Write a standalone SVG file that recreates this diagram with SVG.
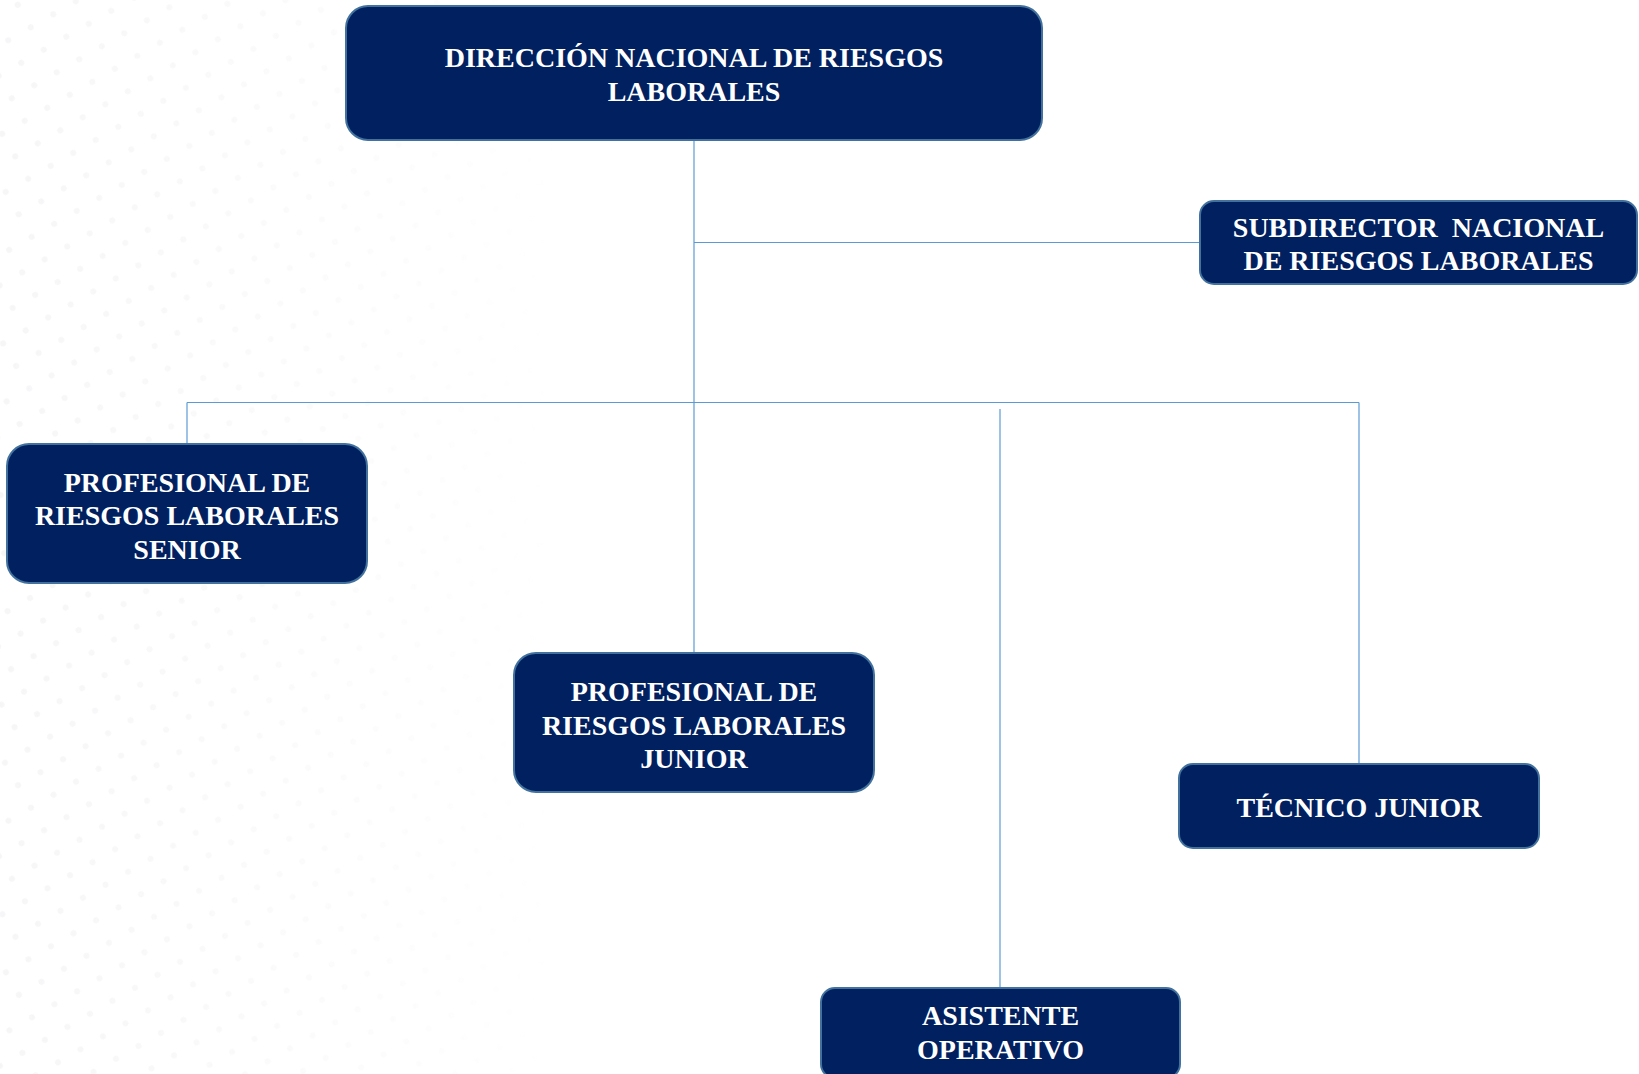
<svg xmlns="http://www.w3.org/2000/svg" width="1639" height="1074" viewBox="0 0 1639 1074">
  <defs>
    <style>
      .box { fill: #002060; stroke: #41719C; stroke-width: 2; }
      .lbl { font-family: "Liberation Serif", "Times New Roman", serif; font-weight: bold; font-size: 28px; fill: #ffffff; text-anchor: middle; }
      .conn { fill: none; stroke: #5B9BD5; stroke-width: 1.2; }
    </style>
    <pattern id="dots" width="26" height="26" patternUnits="userSpaceOnUse" patternTransform="rotate(-30)">
      <circle cx="13" cy="13" r="3" fill="#ededf0"/>
    </pattern>
    <linearGradient id="fade" x1="0" y1="0" x2="1" y2="0">
      <stop offset="0" stop-color="#fff" stop-opacity="1"/>
      <stop offset="1" stop-color="#fff" stop-opacity="0"/>
    </linearGradient>
    <mask id="dotmask">
      <rect x="0" y="0" width="560" height="1074" fill="url(#fade)"/>
    </mask>
  </defs>
  <rect x="0" y="0" width="1639" height="1074" fill="#ffffff"/>
  <rect x="0" y="0" width="560" height="1074" fill="url(#dots)" mask="url(#dotmask)" opacity="0.5"/>

  <g id="connectors">
    <line class="conn" x1="694" y1="140" x2="694" y2="653"/>
    <line class="conn" x1="694" y1="242.5" x2="1200" y2="242.5"/>
    <line class="conn" x1="187" y1="402.5" x2="1359" y2="402.5"/>
    <line class="conn" x1="187" y1="402.5" x2="187" y2="444"/>
    <line class="conn" x1="1359" y1="402.5" x2="1359" y2="764"/>
    <line class="conn" x1="1000" y1="409" x2="1000" y2="988"/>
  </g>

  <g id="node-direccion">
    <rect class="box" x="346" y="6" width="696" height="134" rx="22"/>
    <text class="lbl" x="694" y="67">DIRECCIÓN NACIONAL DE RIESGOS</text>
    <text class="lbl" x="694" y="100.5">LABORALES</text>
  </g>

  <g id="node-subdirector">
    <rect class="box" x="1200" y="201" width="437" height="83" rx="14"/>
    <text class="lbl" x="1418.5" y="237" xml:space="preserve">SUBDIRECTOR  NACIONAL</text>
    <text class="lbl" x="1418.5" y="270">DE RIESGOS LABORALES</text>
  </g>

  <g id="node-senior">
    <rect class="box" x="7" y="444" width="360" height="139" rx="22"/>
    <text class="lbl" x="187" y="491.5">PROFESIONAL DE</text>
    <text class="lbl" x="187" y="525">RIESGOS LABORALES</text>
    <text class="lbl" x="187" y="558.5">SENIOR</text>
  </g>

  <g id="node-junior">
    <rect class="box" x="514" y="653" width="360" height="139" rx="22"/>
    <text class="lbl" x="694" y="701">PROFESIONAL DE</text>
    <text class="lbl" x="694" y="734.5">RIESGOS LABORALES</text>
    <text class="lbl" x="694" y="768">JUNIOR</text>
  </g>

  <g id="node-tecnico">
    <rect class="box" x="1179" y="764" width="360" height="84" rx="14"/>
    <text class="lbl" x="1359" y="817">TÉCNICO JUNIOR</text>
  </g>

  <g id="node-asistente">
    <rect class="box" x="821" y="988" width="359" height="90" rx="14"/>
    <text class="lbl" x="1000.5" y="1025">ASISTENTE</text>
    <text class="lbl" x="1000.5" y="1058.5">OPERATIVO</text>
  </g>
</svg>
